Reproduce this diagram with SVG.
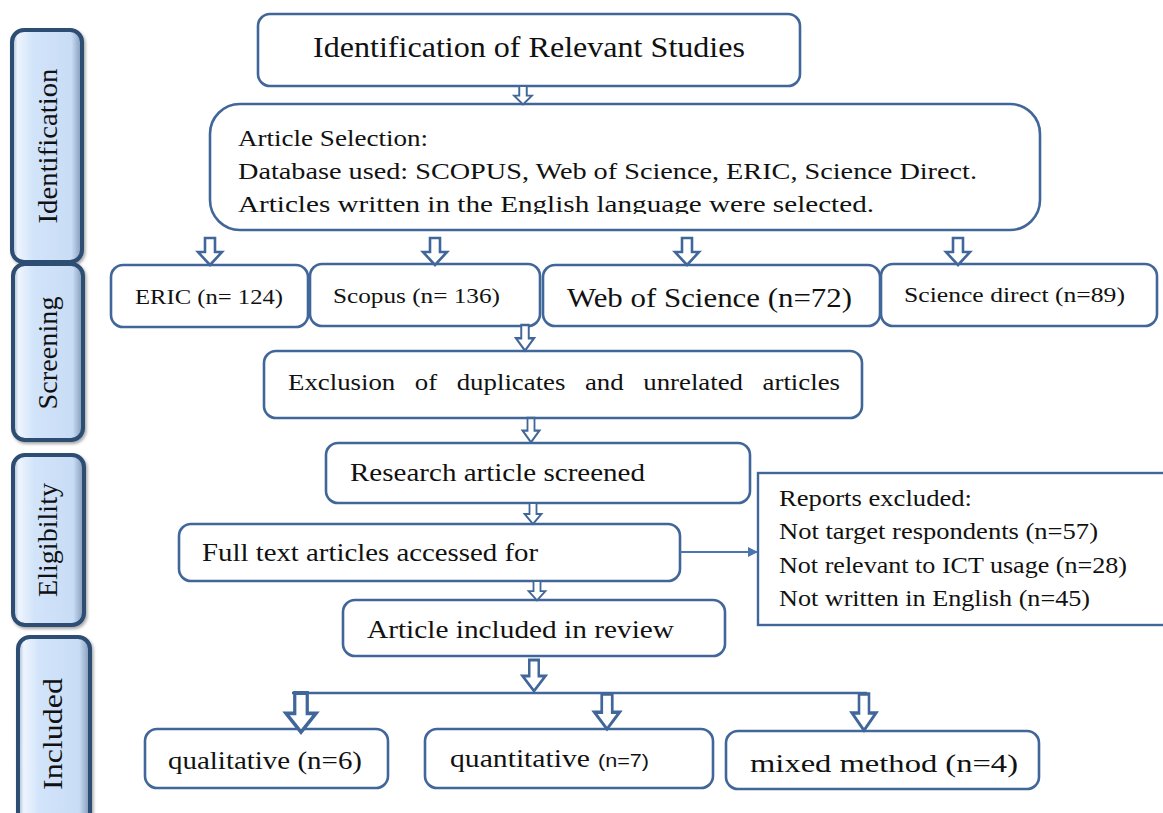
<svg xmlns="http://www.w3.org/2000/svg" width="1163" height="813" viewBox="0 0 1163 813">
<defs>
<linearGradient id="side" x1="0" y1="0" x2="1" y2="0">
<stop offset="0" stop-color="#9fb4cf"/>
<stop offset="0.08" stop-color="#eef5fe"/>
<stop offset="0.3" stop-color="#d2e4fa"/>
<stop offset="0.85" stop-color="#c8dcf5"/>
<stop offset="1" stop-color="#7f96b5"/>
</linearGradient>
<filter id="sh" x="-20%" y="-10%" width="140%" height="120%">
<feDropShadow dx="1.5" dy="2" stdDeviation="1.5" flood-color="#000" flood-opacity="0.35"/>
</filter>
<path id="harrow" d="M-5,0 H5 V14 H12 L0,27 L-12,14 H-5 Z"/>
<marker id="tri" markerWidth="10" markerHeight="10" refX="9" refY="5" orient="auto" markerUnits="userSpaceOnUse">
<path d="M0,0 L10,5 L0,10 Z" fill="#4a76b0"/>
</marker>
<clipPath id="clipSel"><rect x="200" y="100" width="850" height="114"/></clipPath>
</defs>
<style>
.box{fill:#fff;stroke:#41679a;stroke-width:2.6}
.sb{fill:url(#side);stroke:#2d4d73;stroke-width:4;filter:url(#sh)}
.t{font-family:"Liberation Serif","DejaVu Serif",serif;fill:#111}
.st{font-family:"Liberation Serif","DejaVu Serif",serif;fill:#111;font-size:28px}
.ar{fill:#fff;stroke:#41679a;stroke-width:2.6;stroke-linejoin:miter}
</style>

<g id="side-identification">
<rect class="sb" x="12" y="30" width="70" height="232" rx="12"/>
<text class="st" transform="translate(57,146) rotate(-90)" text-anchor="middle" textLength="155" lengthAdjust="spacingAndGlyphs">Identification</text>
</g>
<g id="side-screening">
<rect class="sb" x="13" y="264" width="70" height="176" rx="12"/>
<text class="st" transform="translate(57,353) rotate(-90)" text-anchor="middle" textLength="113" lengthAdjust="spacingAndGlyphs">Screening</text>
</g>
<g id="side-eligibility">
<rect class="sb" x="13" y="455" width="71" height="170" rx="12"/>
<text class="st" transform="translate(57,540) rotate(-90)" text-anchor="middle" textLength="114" lengthAdjust="spacingAndGlyphs">Eligibility</text>
</g>
<g id="side-included">
<rect class="sb" x="18" y="637" width="72" height="200" rx="12"/>
<text class="st" transform="translate(62,734) rotate(-90)" text-anchor="middle" textLength="112" lengthAdjust="spacingAndGlyphs">Included</text>
</g>

<g id="identification">
<rect class="box" x="258" y="14" width="542" height="72" rx="12"/>
<text class="t" x="313" y="57" font-size="29" textLength="432" lengthAdjust="spacingAndGlyphs">Identification of Relevant Studies</text>
</g>
<g id="selection">
<rect class="box" x="210" y="104" width="830" height="126" rx="30"/>
<g clip-path="url(#clipSel)">
<text class="t" x="238" y="146" font-size="24" textLength="190" lengthAdjust="spacingAndGlyphs">Article Selection:</text>
<text class="t" x="238" y="179" font-size="24" textLength="739" lengthAdjust="spacingAndGlyphs">Database used: SCOPUS, Web of Science, ERIC, Science Direct.</text>
<text class="t" x="238" y="212" font-size="24" textLength="636" lengthAdjust="spacingAndGlyphs">Articles written in the English language were selected.</text>
</g>
</g>
<g id="eric">
<rect class="box" x="111" y="265" width="197" height="62" rx="12"/>
<text class="t" x="135" y="304" font-size="21" textLength="148" lengthAdjust="spacingAndGlyphs">ERIC (n= 124)</text>
</g>
<g id="scopus">
<rect class="box" x="310" y="264" width="230" height="62" rx="12"/>
<text class="t" x="333" y="303" font-size="21" textLength="167" lengthAdjust="spacingAndGlyphs">Scopus (n= 136)</text>
</g>
<g id="wos">
<rect class="box" x="543" y="265" width="337" height="61" rx="12"/>
<text class="t" x="567" y="307" font-size="27" textLength="285" lengthAdjust="spacingAndGlyphs">Web of Science (n=72)</text>
</g>
<g id="sciencedirect">
<rect class="box" x="881" y="264" width="276" height="62" rx="12"/>
<text class="t" x="904" y="302" font-size="21" textLength="221" lengthAdjust="spacingAndGlyphs">Science direct (n=89)</text>
</g>
<g id="exclusion">
<rect class="box" x="264" y="351" width="598" height="67" rx="12"/>
<text class="t" x="288" y="390" font-size="23" word-spacing="11" textLength="552" lengthAdjust="spacingAndGlyphs">Exclusion of duplicates and unrelated articles</text>
</g>
<g id="screened">
<rect class="box" x="326" y="443" width="424" height="60" rx="12"/>
<text class="t" x="350" y="481" font-size="26" textLength="295" lengthAdjust="spacingAndGlyphs">Research article screened</text>
</g>
<g id="fulltext">
<rect class="box" x="179" y="524" width="501" height="57" rx="12"/>
<text class="t" x="202" y="561" font-size="26" textLength="336" lengthAdjust="spacingAndGlyphs">Full text articles accessed for</text>
</g>
<g id="excluded">
<rect x="758" y="473" width="412" height="152" fill="#fff" stroke="#41679a" stroke-width="2.4"/>
<text class="t" x="779" y="506" font-size="23" textLength="193" lengthAdjust="spacingAndGlyphs">Reports excluded:</text>
<text class="t" x="779" y="539" font-size="23" textLength="319" lengthAdjust="spacingAndGlyphs">Not target respondents (n=57)</text>
<text class="t" x="779" y="573" font-size="23" textLength="348" lengthAdjust="spacingAndGlyphs">Not relevant to ICT usage (n=28)</text>
<text class="t" x="779" y="606" font-size="23" textLength="311" lengthAdjust="spacingAndGlyphs">Not written in English (n=45)</text>
</g>
<g id="included">
<rect class="box" x="343" y="600" width="382" height="56" rx="12"/>
<text class="t" x="367" y="638" font-size="26" textLength="307" lengthAdjust="spacingAndGlyphs">Article included in review</text>
</g>
<g id="qualitative">
<rect class="box" x="145" y="729" width="243" height="59" rx="12"/>
<text class="t" x="168" y="769" font-size="26" textLength="194" lengthAdjust="spacingAndGlyphs">qualitative (n=6)</text>
</g>
<g id="quantitative">
<rect class="box" x="425" y="729" width="288" height="59" rx="12"/>
<text class="t" x="450" y="767" font-size="26" textLength="140" lengthAdjust="spacingAndGlyphs">quantitative</text>
<text x="598" y="767" font-family="'Liberation Sans',Arial,sans-serif" font-size="19" fill="#111" textLength="51" lengthAdjust="spacingAndGlyphs">(n=7)</text>
</g>
<g id="mixed">
<rect class="box" x="726" y="731" width="313" height="58" rx="12"/>
<text class="t" x="750" y="772" font-size="26" textLength="268" lengthAdjust="spacingAndGlyphs">mixed method (n=4)</text>
</g>

<g id="connectors">
<use href="#harrow" class="ar" transform="translate(523,86) scale(0.75,0.68)"/>
<use href="#harrow" class="ar" transform="translate(210,238)"/>
<use href="#harrow" class="ar" transform="translate(435,238)"/>
<use href="#harrow" class="ar" transform="translate(687,238)"/>
<use href="#harrow" class="ar" transform="translate(958,238)"/>
<use href="#harrow" class="ar" transform="translate(525,325) scale(0.75,0.95)"/>
<use href="#harrow" class="ar" transform="translate(531,418) scale(0.7,0.9)"/>
<use href="#harrow" class="ar" transform="translate(533,503) scale(0.7,0.78)"/>
<use href="#harrow" class="ar" transform="translate(537,581) scale(0.7,0.72)"/>
<use href="#harrow" class="ar" transform="translate(534,660) scale(0.95,1.15)"/>
<line x1="292" y1="693" x2="867" y2="693" stroke="#41679a" stroke-width="2.6"/>
<use href="#harrow" class="ar" transform="translate(301,693) scale(1.25,1.45)"/>
<use href="#harrow" class="ar" transform="translate(607,694) scale(1.05,1.3)"/>
<use href="#harrow" class="ar" transform="translate(864,694) scale(1,1.35)"/>
<line x1="680" y1="552" x2="757" y2="552" stroke="#4a76b0" stroke-width="2" marker-end="url(#tri)"/>
</g>
</svg>
